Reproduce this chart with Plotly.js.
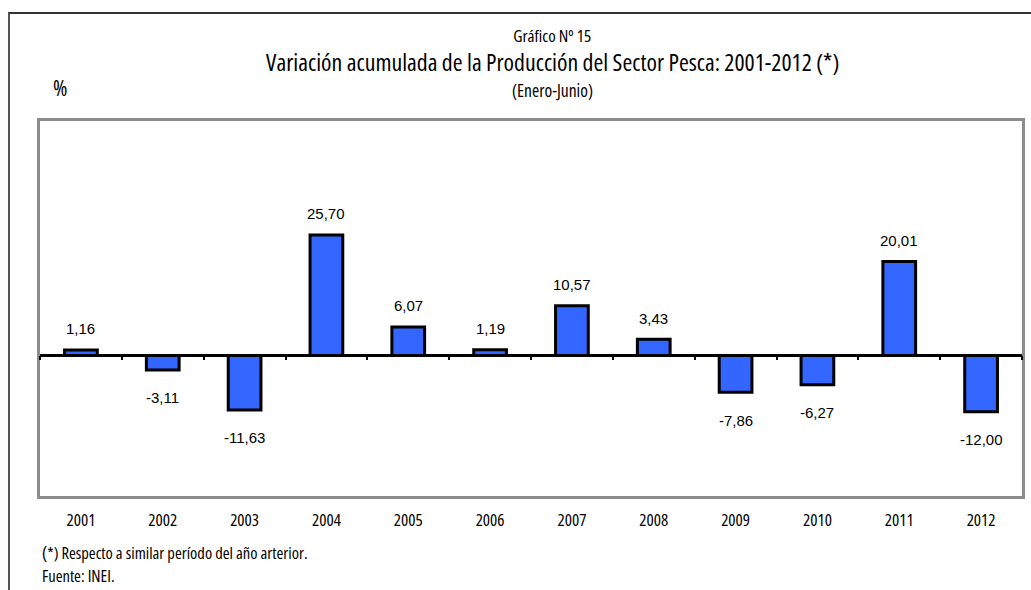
<!DOCTYPE html>
<html>
<head>
<meta charset="utf-8">
<script src="https://cdn.plot.ly/plotly-3.0.1.min.js"></script>
<style>
  html, body { margin: 0; padding: 0; background: #fff; }
  #frame { position: absolute; left: 8px; top: 12px; width: 1030px; height: 590px;
           border-top: 2px solid #333; border-left: 2px solid #555; box-sizing: border-box; }
  #chart { position: absolute; left: 0; top: 0; width: 1031px; height: 590px; }
  #chart text[style*="Open Sans"] { font-stretch: 75% !important; }
  #chart tspan { font-stretch: inherit; }
</style>
</head>
<body>
<div id="frame"></div>
<div id="chart"></div>
<script>
// Data
const years = ["2001","2002","2003","2004","2005","2006","2007","2008","2009","2010","2011","2012"];
const variation = [1.16, -3.11, -11.63, 25.70, 6.07, 1.19, 10.57, 3.43, -7.86, -6.27, 20.01, -12.00];

const titleText = "Variación acumulada de la Producción del Sector Pesca: 2001-2012 (*)";
const chartNumber = "Gráfico Nº 15";
const subtitleText = "(Enero-Junio)";
const unitText = "%";
const noteText = "<span style='font-size:18px'>(</span>*) Respecto a similar período del año arterior.";
const sourceText = "Fuente: INEI.";

const arial = "Liberation Sans, Arial, sans-serif";
const narrow = "Open Sans";
const nf = (size) => ({ family: narrow, size: size, color: '#000' });

const fmt = v => v.toFixed(2).replace('.', ',');

const yRange = [-30, 50];

const traces = [
  {
    type: 'bar',
    x: years,
    y: variation,
    xaxis: 'x',
    yaxis: 'y',
    marker: { color: '#3366FF', line: { color: '#000', width: 3 } },
    hoverinfo: 'x+y'
  },
  {
    type: 'scatter',
    mode: 'markers',
    x: years,
    y: years.map(() => 0),
    xaxis: 'x2',
    yaxis: 'y',
    marker: { opacity: 0 },
    hoverinfo: 'skip',
    showlegend: false
  }
];

const annotations = variation.map((v, i) => ({
  x: i, y: v, xref: 'x', yref: 'y',
  text: fmt(v), showarrow: false,
  yshift: v >= 0 ? 21 : -28,
  font: { family: arial, size: 15, color: '#000' }
}));

annotations.push(
  { xref: 'paper', yref: 'paper', x: 0.5214, y: 1.229, text: chartNumber, showarrow: false,
    xanchor: 'center', yanchor: 'middle', font: nf(17) },
  { xref: 'paper', yref: 'paper', x: 0.5214, y: 1.157, text: titleText, showarrow: false,
    xanchor: 'center', yanchor: 'middle', font: nf(23.8) },
  { xref: 'paper', yref: 'paper', x: 0.5214, y: 1.083, text: subtitleText, showarrow: false,
    xanchor: 'center', yanchor: 'middle', font: nf(17.5) },
  { xref: 'paper', yref: 'paper', x: 0.0204, y: 1.09, text: unitText, showarrow: false,
    xanchor: 'center', yanchor: 'middle', font: nf(22) },
  { xref: 'paper', yref: 'paper', x: 0.0, y: -0.149, text: noteText, showarrow: false,
    xanchor: 'left', align: 'left', yanchor: 'middle', font: nf(16.5) },
  { xref: 'paper', yref: 'paper', x: 0.0, y: -0.213, text: sourceText, showarrow: false,
    xanchor: 'left', align: 'left', yanchor: 'middle', font: nf(16.5) }
);

const layout = {
  width: 1031, height: 590,
  margin: { l: 40, r: 9, t: 121, b: 94 },
  paper_bgcolor: 'rgba(0,0,0,0)',
  plot_bgcolor: '#fff',
  showlegend: false,
  bargap: 0.6,
  xaxis: {
    type: 'category',
    categoryorder: 'array', categoryarray: years,
    range: [-0.5, 11.5],
    showgrid: false, zeroline: false,
    showline: true, mirror: true, linecolor: '#8c8c8c', linewidth: 3,
    ticks: 'outside', ticklen: 7, tickcolor: 'rgba(0,0,0,0)',
    tickfont: nf(17),
    fixedrange: true
  },
  xaxis2: {
    type: 'category',
    categoryorder: 'array', categoryarray: years,
    range: [-0.5, 11.5],
    overlaying: 'x',
    anchor: 'free', position: (0 - yRange[0]) / (yRange[1] - yRange[0]), side: 'bottom',
    showgrid: false, zeroline: false, showline: false,
    showticklabels: false,
    ticks: 'outside', tickson: 'boundaries', ticklen: 4, tickwidth: 2, tickcolor: '#000'
  },
  yaxis: {
    range: yRange,
    showgrid: false,
    zeroline: true, zerolinecolor: '#000', zerolinewidth: 3,
    showline: true, mirror: true, linecolor: '#8c8c8c', linewidth: 3,
    showticklabels: false, ticks: '',
    fixedrange: true
  },
  annotations: annotations
};

Plotly.newPlot('chart', traces, layout, { displayModeBar: false, staticPlot: true });
</script>
</body>
</html>
